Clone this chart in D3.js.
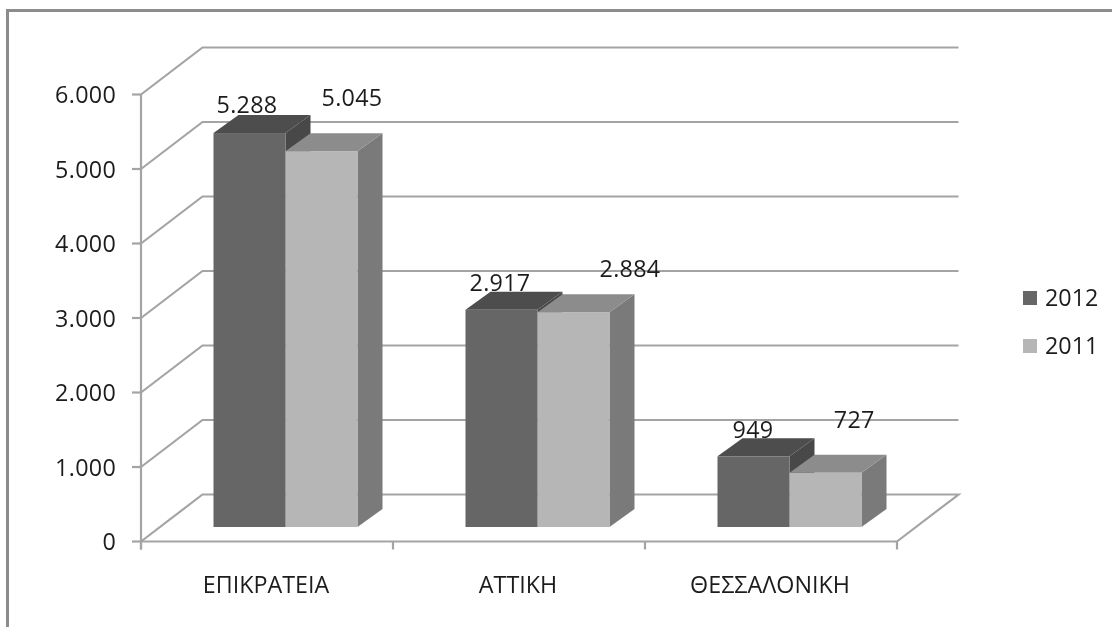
<!DOCTYPE html>
<html><head><meta charset="utf-8">
<script src="https://cdnjs.cloudflare.com/ajax/libs/d3/7.8.5/d3.min.js"></script>
<style>html,body{margin:0;padding:0;background:#fff}svg{display:block;filter:blur(.5px)}
text{font-family:"Open Sans",sans-serif;fill:#1c1c1c}</style></head><body><div id="c"></div>
<script>
const categories=["ΕΠΙΚΡΑΤΕΙΑ","ΑΤΤΙΚΗ","ΘΕΣΣΑΛΟΝΙΚΗ"];
const seriesNames=["2012","2011"];
const values2012=[5288,2917,949];
const values2011=[5045,2884,727];
const yTicks=[0,1000,2000,3000,4000,5000,6000];
const labelNudge2012=[[-2.5,-20],[-1.5,-18.7],[-0.5,-18.3]];
const labelNudge2011=[[30.5,-45.2],[56.5,-35.1],[28.8,-45.1]];

const W=1112,H=627;
const svg=d3.select("#c").append("svg").attr("width",W).attr("height",H);
const x=d3.scaleBand().domain(categories).range([141,897]);
const y=d3.scaleLinear().domain([0,6000]).range([541.5,94.5]);
const depthX=61.5,depthY=-47, barDX=25,barDY=-18, baseLift=14.5, barW=72;
const grey="#a4a4a4";
const fontSize=23.3;
const fmt=v=>d3.format(",")(v).replace(/,/g,".");
const line=d3.line();

// frame
svg.append("path").attr("d",line([[W+5,10.5],[7.5,10.5],[7.5,H+5]])).attr("fill","none").attr("stroke","#8c8c8c").attr("stroke-width",3);

// gridlines with side-wall and floor
yTicks.forEach(t=>{
  const p=[[141,y(t)],[141+depthX,y(t)+depthY],[897+depthX,y(t)+depthY]];
  if(t===0)p.push([897,y(0)]);
  svg.append("path").attr("d",line(p)).attr("fill","none").attr("stroke",grey).attr("stroke-width",2.2);
});
// axes
const ax=svg.append("g").attr("stroke",grey).attr("stroke-width",2.2);
ax.append("line").attr("x1",141).attr("x2",141).attr("y1",y(6000)).attr("y2",y(0)+8);
ax.append("line").attr("x1",141).attr("x2",897).attr("y1",y(0)).attr("y2",y(0));
yTicks.forEach(t=>ax.append("line").attr("x1",132).attr("x2",141).attr("y1",y(t)).attr("y2",y(t)));
[...categories.map(c=>x(c)),x.range()[1]].forEach(v=>ax.append("line").attr("x1",v).attr("x2",v).attr("y1",y(0)).attr("y2",y(0)+8));

yTicks.forEach(t=>{
  svg.append("text").attr("x",116).attr("y",y(t)+8.8).attr("text-anchor","end")
    .attr("font-size",fontSize).attr("letter-spacing","0.3px").text(t===0?"0":fmt(t));
});
categories.forEach(c=>{
  svg.append("text").attr("x",x(c)+x.bandwidth()/2-1).attr("y",593).attr("text-anchor","middle")
    .attr("font-size",fontSize).text(c);
});

// bars
function bar(x0,v,front,top,side){
  const y0=y(0)-baseLift, y1=y(v)-baseLift, x1=x0+barW;
  const g=svg.append("g");
  g.append("path").attr("fill",side).attr("d",line([[x1,y0],[x1+barDX,y0+barDY],[x1+barDX,y1+barDY],[x1,y1]])+"Z");
  g.append("path").attr("fill",top).attr("d",line([[x0,y1],[x0+barDX,y1+barDY],[x1+barDX,y1+barDY],[x1,y1]])+"Z");
  g.append("rect").attr("x",x0).attr("y",y1).attr("width",barW).attr("height",y0-y1).attr("fill",front);
}
categories.forEach((c,i)=>{
  const x0=x(c)+72.5;
  bar(x0,values2012[i],"#666666","#4d4d4d","#484848");
  bar(x0+barW,values2011[i],"#b6b6b6","#8c8c8c","#7a7a7a");
});
categories.forEach((c,i)=>{
  const x0=x(c)+72.5;
  [[values2012,labelNudge2012,x0],[values2011,labelNudge2011,x0+barW]].forEach(([vals,nudge,xs])=>{
    svg.append("text").attr("x",xs+barW/2+nudge[i][0]).attr("y",y(vals[i])-baseLift+nudge[i][1])
      .attr("text-anchor","middle").attr("font-size",fontSize).attr("letter-spacing","0.3px").text(fmt(vals[i]));
  });
});

// legend
seriesNames.forEach((s,i)=>{
  svg.append("rect").attr("x",1023).attr("y",291+i*48).attr("width",14).attr("height",14).attr("fill",i?"#b6b6b6":"#666666");
  svg.append("text").attr("x",1045).attr("y",306+i*48).attr("font-size",fontSize).text(s);
});
</script></body></html>
